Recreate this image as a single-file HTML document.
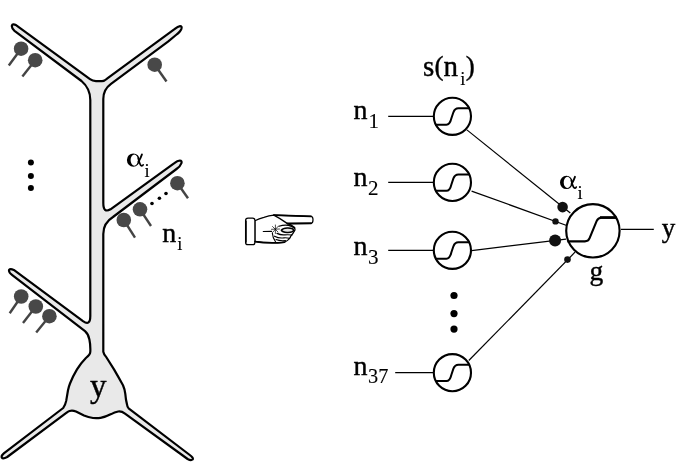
<!DOCTYPE html>
<html>
<head>
<meta charset="utf-8">
<title>Neuron model</title>
<style>
html,body{margin:0;padding:0;background:#fff;}
body{width:681px;height:470px;overflow:hidden;font-family:"Liberation Serif",serif;}
svg{display:block;will-change:transform;}
text{font-family:"Liberation Serif",serif;fill:#000;stroke:#000;stroke-width:0.4px;}
text.sub{stroke-width:0.12px;}
</style>
</head>
<body>
<svg width="681" height="470" viewBox="0 0 681 470">
<rect width="681" height="470" fill="#fff"/>
<defs>
<g id="alpha">
<path fill="#000" fill-rule="evenodd" stroke="none" d="M0 6.9 A6.4 6.7 0 1 1 12.8 6.9 A6.4 6.7 0 1 1 0 6.9 Z M3.7 6.9 A3.7 5.6 0 1 0 11.1 6.9 A3.7 5.6 0 1 0 3.7 6.9 Z"/>
<path fill="none" stroke="#000" stroke-width="1.9" stroke-linecap="round" d="M15 1.3 C14.2 3.8 13 6.2 11.6 8.6"/>
<path fill="none" stroke="#000" stroke-width="1.7" stroke-linecap="round" d="M11.4 5 C12.2 8.5 13 11 14 12.2 C14.7 12.9 15.6 12.7 16.2 11.6"/>
</g>
</defs>


<!-- neuron body -->
<path id="neuron" fill="#e9e9e9" stroke="#000" stroke-width="2.2" stroke-linejoin="round" d="
M 96 81.1 L 102 81.1 Q 104.4 81.1 107 78.7
L 174.5 29.2 Q 178 26.3 180 26.1 Q 182.2 26.2 181.4 28.8 Q 180.5 31.5 176 35 L 168 41.6
L 111 83.9 Q 103.3 89.5 103.3 99
L 103.3 203 Q 103.3 213.5 110.5 209.3
L 174 163.3 Q 177.5 160.6 179.8 160.5 Q 182.2 160.6 181.4 163.2 Q 180.5 166 176.5 169
L 113 217 Q 103.3 223 103.3 234
L 103.3 351.8
Q 104 355 106.2 357 Q 110 363 114 369.4 Q 119 378 123 385.3 Q 125 390 125.3 393.8 Q 125.8 400 127 404.4 Q 127.3 407 128.6 408.3
L 189.8 455 Q 193.8 458 192.6 459.5 Q 191 460.8 187.6 459
L 125 413.6
Q 121.5 411 118.2 411.5 Q 114.5 412.3 111.2 414.1 Q 105 417.3 100.6 417.8 Q 97 418.4 93 418 Q 88.2 417.3 84 415.5 Q 79.4 413.2 76 411.5 Q 72.4 410 69.5 411 Q 68 411.5 67 412.4
L 7.2 457 Q 3 459.3 1.8 457.6 Q 1 455.8 3.8 453.4
L 63.2 408
Q 65.5 404.5 66.2 400.9 Q 67.2 395 68 390.3 Q 68.8 386.5 70 383.5 Q 73 376 77 369.4 Q 81 363 85.9 358 Q 90.3 354.5 90.3 351.8
Q 90.6 345 89.4 339.4 Q 88.3 334 85 331.2
L 12.3 275.2 Q 8.4 272.2 9.1 269.9 Q 10.2 268.3 13.8 269.9
L 83 321.2 Q 90.3 326.3 90.3 316
L 90.3 100 Q 90.3 88.5 81.5 81
L 14.5 30.8 Q 11.4 28.2 11.9 25.6 Q 12.6 23.5 16 25.1
L 90 79.2 Q 92.5 81.1 96 81.1
Z"/>

<!-- synapses left side -->
<g stroke="#444" stroke-width="2.4" fill="#444" stroke-linecap="butt">
<line x1="21.1" y1="48.7" x2="8.8" y2="65.5"/>
<line x1="35.2" y1="60.2" x2="22.4" y2="76.4"/>
<line x1="154.7" y1="64.7" x2="166.5" y2="81.5"/>
<line x1="177.4" y1="183.2" x2="188" y2="198.2"/>
<line x1="140" y1="209.3" x2="151" y2="226"/>
<line x1="123.8" y1="220" x2="135" y2="237.6"/>
<line x1="21.2" y1="296.5" x2="9.7" y2="313.2"/>
<line x1="35.8" y1="306.5" x2="23" y2="323"/>
<line x1="49.4" y1="316.2" x2="36.2" y2="332.6"/>
</g>
<g fill="#484848">
<circle cx="21.1" cy="48.7" r="7.3"/>
<circle cx="35.2" cy="60.2" r="7.3"/>
<circle cx="154.7" cy="64.7" r="7.3"/>
<circle cx="177.4" cy="183.2" r="7.3"/>
<circle cx="140" cy="209.3" r="7.3"/>
<circle cx="123.8" cy="220" r="7.3"/>
<circle cx="21.2" cy="296.5" r="7.3"/>
<circle cx="35.8" cy="306.5" r="7.3"/>
<circle cx="49.4" cy="316.2" r="7.3"/>
</g>
<!-- dots -->
<g fill="#000">
<circle cx="30.9" cy="162.6" r="3"/>
<circle cx="30.9" cy="175.9" r="3"/>
<circle cx="30.9" cy="187.9" r="3"/>
<circle cx="152" cy="203.5" r="1.8"/>
<circle cx="159.4" cy="198.2" r="1.8"/>
<circle cx="166" cy="193.5" r="1.8"/>
</g>

<!-- left labels -->
<use href="#alpha" x="126.9" y="153.2"/>
<text class="sub" x="144.5" y="177.2" font-size="18.5">i</text>
<text x="162.3" y="242.4" font-size="28">n</text>
<text class="sub" x="177.3" y="250.2" font-size="18.5">i</text>
<text x="90" y="396.8" font-size="33">y</text>

<!-- hand -->
<g id="hand" fill="#fff" stroke="#000" stroke-width="1.25" stroke-linejoin="round" stroke-linecap="round">
<path d="M254.9 220.8 Q259 218.6 263.9 217.3 Q269 215.8 273.8 215.2 L311.2 216.4 Q313 216.8 313 219.8 Q313 223 311.2 223.3 L287.5 223.7 Q292 225.2 294.7 227.4 Q295.6 229.5 294.1 231.6 Q293 234 291 235.8 Q290.4 237.6 289.2 238.9 Q287.4 240.8 284.9 242 Q280 243 275 242.6 Q264 242.8 254.9 241.4 Z"/>
<path d="M248 218 L252.6 218 Q254.9 218 254.9 220.3 L254.9 242.4 Q254.9 244.7 252.6 244.7 L248 244.7 Q245.6 244.7 245.6 242.4 L245.6 220.3 Q245.6 218 248 218 Z"/>
<path d="M245.9 221 L245.9 242" fill="none" stroke-width="1.7"/>
<path d="M255 241.6 Q264 243 275 242.8 Q280 243.2 284.5 242.2" fill="none" stroke-width="1.7"/>
<path d="M273.8 215.2 L311 216.4" fill="none" stroke-width="1.7"/>
<path d="M287.5 223.6 L311 223.2" fill="none" stroke-width="2"/>
<path d="M273.8 215.2 Q280 218.4 287.5 223.6" fill="none" stroke-width="1.3"/>
<path d="M263.3 231.5 L271.5 231.4" fill="none" stroke-width="1.2"/>
<path d="M272.5 226.5 L278 232 M278.5 226 L272.5 232.5 M275.4 225 L275.4 233.5 M271.5 229.3 L279.5 229" fill="none" stroke-width="0.7"/>
<path d="M279 226.2 Q284 224.6 288.5 225.4 Q293 226.4 294.4 228.4" fill="none" stroke-width="1.2"/>
<path d="M281.3 230.2 Q283 227.8 288 228 Q293.4 228.2 293.6 230.2 Q293 232.4 288 232.4 Q282.5 232.6 281.3 230.2 Z" fill="#e8e8e8" stroke-width="1.5"/>
<path d="M277 233.4 Q281 235.4 285 234.8 Q289 234.6 292 235" fill="none" stroke-width="1.2"/>
<path d="M274.5 236.2 Q279 238.6 284 237.8 Q287 237.6 289.6 238.4" fill="none" stroke-width="1.2"/>
<path d="M276 239.6 Q280 241.2 285.5 240.6" fill="none" stroke-width="1.1"/>
<path d="M272.3 233 Q272.6 237.5 275.5 241.8" fill="none" stroke-width="1.1"/>
</g>

<!-- right network lines -->
<g stroke="#000" stroke-width="1.2" fill="none">
<line x1="388.2" y1="116.3" x2="434" y2="116.3"/>
<line x1="388.2" y1="182.4" x2="434" y2="182.4"/>
<line x1="388.2" y1="250.3" x2="434" y2="250.3"/>
<line x1="395.2" y1="372.7" x2="434" y2="372.7"/>
<line x1="466.9" y1="129.9" x2="570.3" y2="213"/>
<line x1="471.6" y1="191.1" x2="566" y2="225.2"/>
<line x1="471.6" y1="250.6" x2="566" y2="239.2"/>
<line x1="468.8" y1="360.5" x2="575" y2="252.2"/>
<line x1="620.9" y1="229.4" x2="653.8" y2="229.4"/>
</g>

<!-- small units -->
<g id="units" stroke="#000" fill="#fff">
<g transform="translate(452.4 116.3)"><circle r="18.6" stroke-width="2.1"/><path d="M-17.4 8.4 L-6 8.4 Q-2.5 8.4 -1 2 L1 -4 Q2.5 -8 6 -8 L17.6 -8" fill="none" stroke-width="2"/></g>
<g transform="translate(452.4 182.4)"><circle r="18.6" stroke-width="2.1"/><path d="M-17.4 8.4 L-6 8.4 Q-2.5 8.4 -1 2 L1 -4 Q2.5 -8 6 -8 L17.6 -8" fill="none" stroke-width="2"/></g>
<g transform="translate(452.4 250.3)"><circle r="18.6" stroke-width="2.1"/><path d="M-17.4 8.4 L-6 8.4 Q-2.5 8.4 -1 2 L1 -4 Q2.5 -8 6 -8 L17.6 -8" fill="none" stroke-width="2"/></g>
<g transform="translate(452.4 372.7)"><circle r="18.6" stroke-width="2.1"/><path d="M-17.4 8.4 L-6 8.4 Q-2.5 8.4 -1 2 L1 -4 Q2.5 -8 6 -8 L17.6 -8" fill="none" stroke-width="2"/></g>
</g>

<!-- output unit -->
<g transform="translate(592.9 230.8)" stroke="#000" fill="#fff">
<circle r="26.7" stroke-width="2.15"/>
<path d="M-25.5 10.6 L-8 10.6 Q-4.6 10.6 -3.3 7.4 L3.7 -9.6 Q5.1 -13.1 8.5 -13.1 L23.4 -13.1" fill="none" stroke-width="2.1"/>
<path d="M7 -13.3 L23.4 -13.3" fill="none" stroke-width="2.6"/>
</g>

<!-- weights blobs -->
<g fill="#111">
<circle cx="562.6" cy="207.1" r="5.3"/>
<circle cx="555.5" cy="221.4" r="3.2"/>
<circle cx="555.1" cy="240.4" r="6"/>
<circle cx="567.5" cy="259.6" r="3.3"/>
</g>

<!-- right dots -->
<g fill="#000">
<circle cx="454" cy="295.5" r="3.6"/>
<circle cx="454" cy="313.6" r="3.6"/>
<circle cx="454" cy="329.1" r="3.6"/>
</g>

<!-- right labels -->
<text x="423" y="76" font-size="29">s</text>
<text x="434.6" y="75.2" font-size="27">(</text>
<text x="443.6" y="76" font-size="29">n</text>
<text class="sub" x="460.3" y="85" font-size="18.5">i</text>
<text x="465.8" y="75.2" font-size="27">)</text>
<text x="353.5" y="119.3" font-size="28">n</text>
<text x="368.6" y="127.8" font-size="21" class="sub">1</text>
<text x="353.5" y="186.4" font-size="28">n</text>
<text x="368" y="194.6" font-size="21" class="sub">2</text>
<text x="353.5" y="254.7" font-size="28">n</text>
<text x="368" y="263.5" font-size="21" class="sub">3</text>
<text x="353.5" y="374.5" font-size="28">n</text>
<text x="368" y="383.3" font-size="20.3" class="sub">37</text>
<use href="#alpha" x="560" y="175.5"/>
<text class="sub" x="577.4" y="199" font-size="18.5">i</text>
<text x="589.6" y="280.2" font-size="27.5">g</text>
<text x="661.7" y="236.6" font-size="27">y</text>
</svg>
</body>
</html>
